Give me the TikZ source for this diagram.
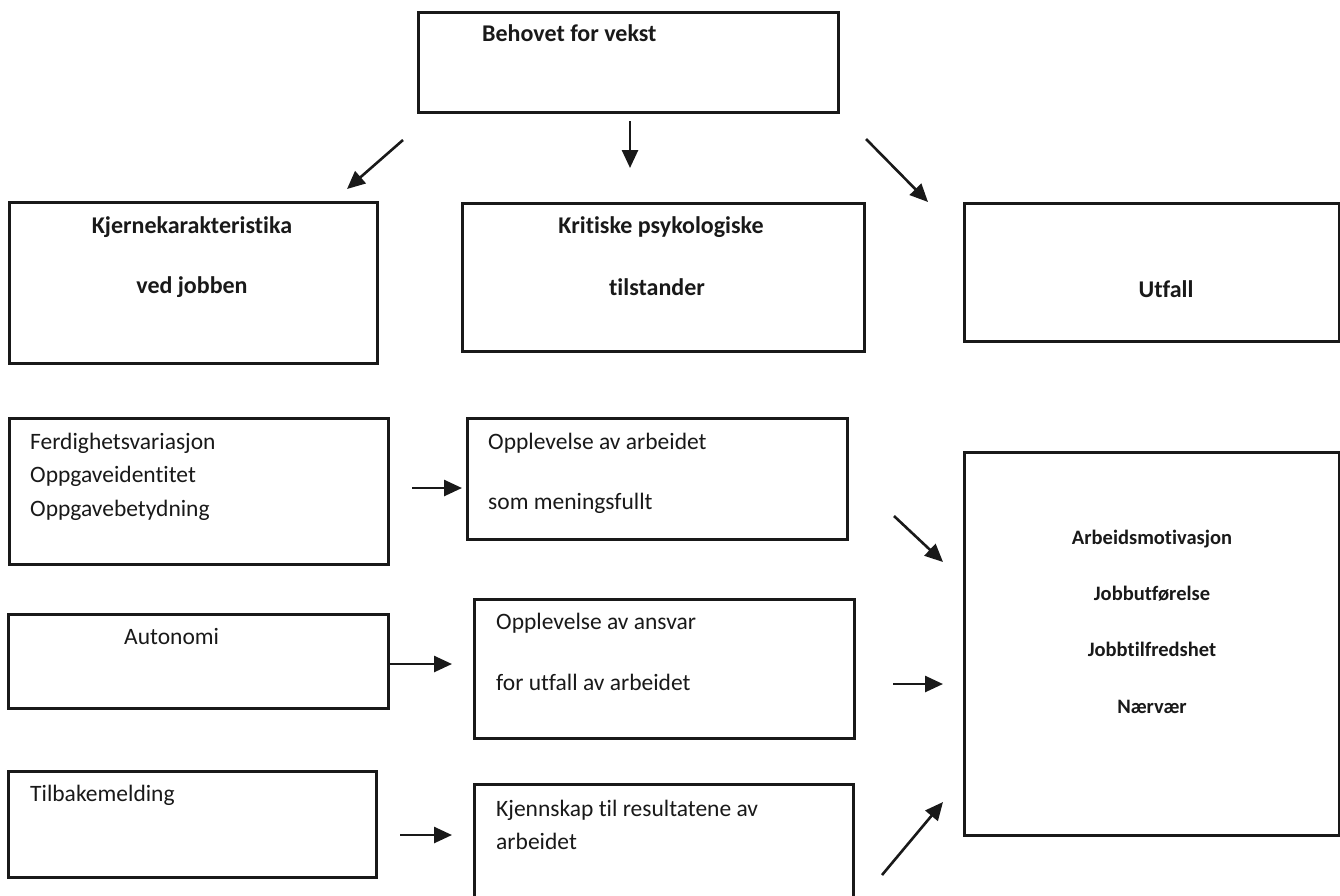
\documentclass[tikz,border=0pt]{standalone}
\usepackage{fontspec}
\setmainfont{Carlito}[RawFeature={-liga}]
\usetikzlibrary{arrows.meta}
\tikzset{
  box/.style={draw=black!90, line width=2.6pt, rectangle, inner sep=0pt, anchor=north west},
  arr/.style={draw=black!90, line width=2.6pt, -{Triangle[length=18pt,width=16pt]}},
  reg/.style={inner sep=0pt, font=\fontsize{23.5}{28}\selectfont, text=black!90},
  bld/.style={inner sep=0pt, font=\fontsize{24}{29}\selectfont\bfseries, text=black!90},
  sbl/.style={inner sep=0pt, font=\fontsize{20.5}{25}\selectfont\bfseries, text=black!90},
}
\newcommand{\boxat}[5]{\node[box, minimum width=#4pt, minimum height=#5pt] (#1) at (#2,#3) {};}
\begin{document}
\begin{tikzpicture}[x=1pt,y=-1pt]
\useasboundingbox (0,0) rectangle (1340,895);
\fill[white] (0,0) rectangle (1340,895);
\begin{scope}
\clip (0,0) rectangle (1340,895);
% boxes
\boxat{top}{417}{11}{420}{100}
\boxat{kjerne}{8}{201}{368}{161}
\boxat{krit}{461}{202}{402}{148}
\boxat{utfall}{963}{202}{375}{138}
\boxat{ferd}{8}{417}{379}{146}
\boxat{opl}{466}{417}{380}{121}
\boxat{res}{963}{451}{375}{383}
\boxat{auto}{7}{613}{380}{94}
\boxat{tilb}{7}{770}{368}{106}
\boxat{ansv}{473}{598}{380}{139}
\boxat{kjenn}{473}{783}{379}{140}
\end{scope}
% texts
\node[bld, anchor=mid west] (tbeh) at (482,39) {Behovet for vekst};
\node[bld, anchor=mid] (tkj1) at (192,231) {Kjernekarakteristika};
\node[bld, anchor=mid] (tkj2) at (192,291) {ved jobben};
\node[bld, anchor=mid] (tkr1) at (661,231) {Kritiske psykologiske};
\node[bld, anchor=mid] (tkr2) at (657,293) {tilstander};
\node[bld, anchor=mid] (tutf) at (1166,295) {Utfall};
\node[reg, anchor=mid west] (tf1) at (30,447) {Ferdighetsvariasjon};
\node[reg, anchor=mid west] (tf2) at (30,480) {Oppgaveidentitet};
\node[reg, anchor=mid west] (tf3) at (30,514) {Oppgavebetydning};
\node[reg, anchor=mid west] (to1) at (488,447) {Opplevelse av arbeidet};
\node[reg, anchor=mid west] (to2) at (488,507) {som meningsfullt};
\node[sbl, anchor=mid] (tr1) at (1152,542) {Arbeidsmotivasjon};
\node[sbl, anchor=mid] (tr2) at (1152,598) {Jobbutførelse};
\node[sbl, anchor=mid] (tr3) at (1152,654) {Jobbtilfredshet};
\node[sbl, anchor=mid] (tr4) at (1152,711) {Nærvær};
\node[reg, anchor=mid west] (tau) at (124,642) {Autonomi};
\node[reg, anchor=mid west] (ttb) at (30,799) {Tilbakemelding};
\node[reg, anchor=mid west] (tan1) at (496,627) {Opplevelse av ansvar};
\node[reg, anchor=mid west] (tan2) at (496,688) {for utfall av arbeidet};
\node[reg, anchor=mid west] (tkn1) at (496,814) {Kjennskap til resultatene av};
\node[reg, anchor=mid west] (tkn2) at (496,847) {arbeidet};
% arrow end points
\coordinate (a1s) at (403,140); \coordinate (a1e) at (347,189);
\coordinate (a2s) at (630,121); \coordinate (a2e) at (630,168);
\coordinate (a3s) at (866,139); \coordinate (a3e) at (928,202);
\coordinate (a4s) at (412,488); \coordinate (a4e) at (462,488);
\coordinate (a5s) at (894,516); \coordinate (a5e) at (943,562);
\coordinate (a6s) at (387,664); \coordinate (a6e) at (452,664);
\coordinate (a7s) at (893,684); \coordinate (a7e) at (943,684);
\coordinate (a8s) at (400,835); \coordinate (a8e) at (452,835);
\coordinate (a9s) at (882,875); \coordinate (a9e) at (943,802);
\draw[arr] (a1s) -- (a1e);
\draw[arr] (a2s) -- (a2e);
\draw[arr] (a3s) -- (a3e);
\draw[arr] (a4s) -- (a4e);
\draw[arr] (a5s) -- (a5e);
\draw[arr] (a6s) -- (a6e);
\draw[arr] (a7s) -- (a7e);
\draw[arr] (a8s) -- (a8e);
\draw[arr] (a9s) -- (a9e);
\end{tikzpicture}
\end{document}
